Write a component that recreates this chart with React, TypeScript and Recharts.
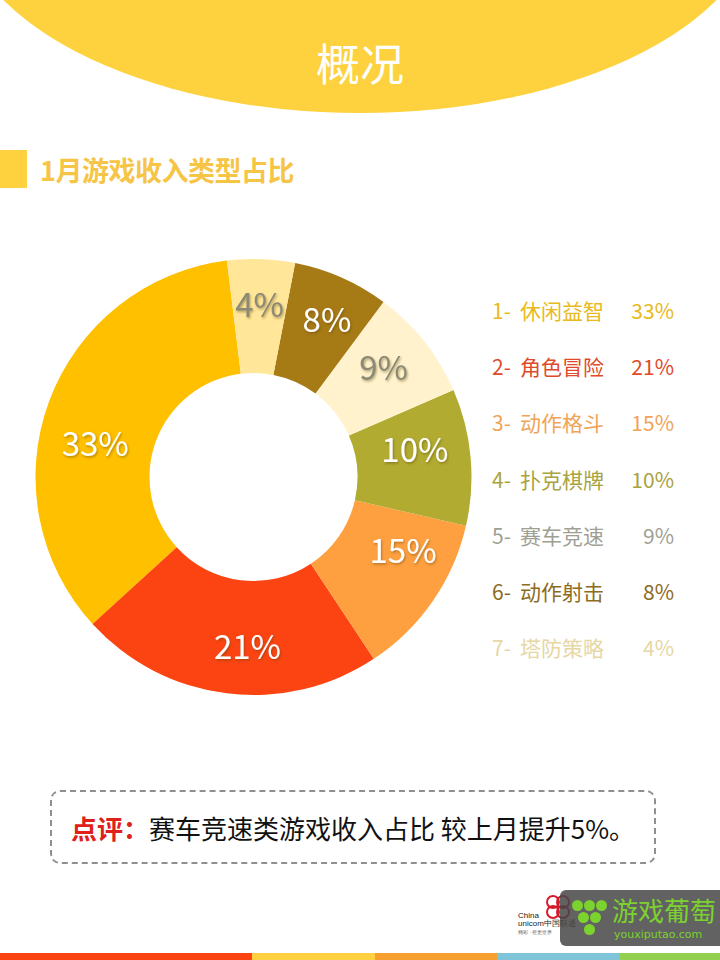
import React from 'react';
import { PieChart, Pie, Cell } from 'recharts';

// legend order (counter-clockwise from the top-left edge)
const categories = ['休闲益智', '角色冒险', '动作格斗', '扑克棋牌', '赛车竞速', '动作射击', '塔防策略'];
const percentLabels = ['33%', '21%', '15%', '10%', '9%', '8%', '4%'];
// slice sizes as drawn in the picture (share of the ring, %)
const sliceShares = [34.8, 22.5, 12.1, 10.1, 8.3, 7.1, 5.0];

const sliceColors = ['#FFC000', '#FC4412', '#FFA040', '#B1AB31', '#FFF2CC', '#A67A15', '#FFE699'];
const labelColors = ['#fff', '#fff', '#fff', '#fff', '#8C8A74', '#fff', '#8C8A74'];
const legendColors = ['#E9B920', '#E04A2A', '#F0A458', '#A9A340', '#A09F94', '#8C6B22', '#E6D7A4'];
// labels were nudged by hand in the original (degrees, ccw)
const labelNudge = [8, 5, 9, 5, 2, -1, 0];
const labelRadius = [162, 168, 166, 164, 171, 175, 174];

const stripeColors = ['#FC4412', '#FFD040', '#F7A030', '#7FC4D8', '#92D050'];
const stripeWidths = [252, 123, 122, 123, 100];

const FONT = '"Noto Sans CJK SC", "Noto Sans", sans-serif';
const RAD = Math.PI / 180;

const data = categories.map((name, i) => ({ name, share: sliceShares[i], label: percentLabels[i] }));

function renderLabel(props: any) {
  const { cx, cy, midAngle, index } = props;
  const r = labelRadius[index];
  const a = midAngle + labelNudge[index];
  const x = cx + r * Math.cos(-a * RAD);
  const y = cy + r * Math.sin(-a * RAD);
  return (
    <text
      x={x}
      y={y}
      fill={labelColors[index]}
      textAnchor="middle"
      dominantBaseline="central"
      fontSize={33}
      fontFamily={FONT}
      filter="url(#lblShadow)"
    >
      {percentLabels[index]}
    </text>
  );
}

export default function App() {
  return (
    <div style={{
      position: 'absolute', left: 0, top: 0, width: 720, height: 960,
      background: '#fff', overflow: 'hidden', fontFamily: FONT,
    }}>
      <svg width={0} height={0} style={{ position: 'absolute' }}>
        <defs>
          <filter id="lblShadow" x="-20%" y="-20%" width="140%" height="150%">
            <feDropShadow dx="1" dy="1.5" stdDeviation="1.2" floodColor="#5a4000" floodOpacity="0.45" />
          </filter>
        </defs>
      </svg>

      {/* header */}
      <div style={{
        position: 'absolute', left: -42, top: -307, width: 804, height: 420,
        borderRadius: '50%', background: '#FDD23E',
      }} />
      <div style={{
        position: 'absolute', left: 0, top: 30, width: 720, textAlign: 'center',
        color: '#fff', fontSize: 44, lineHeight: '64px',
      }}>概况</div>

      {/* section title */}
      <div style={{ position: 'absolute', left: 0, top: 150, width: 27, height: 38, background: '#FDD23E' }} />
      <div style={{
        position: 'absolute', left: 40, top: 151, color: '#F6C546', fontSize: 27,
        fontWeight: 'bold', lineHeight: '38px', letterSpacing: -0.5,
      }}>1月游戏收入类型占比</div>

      <PieChart
        width={720}
        height={960}
        margin={{ top: 0, right: 0, bottom: 0, left: 0 }}
        style={{ position: 'absolute', left: 0, top: 0 }}
      >
        <Pie
          data={data}
          dataKey="share"
          nameKey="name"
          cx={253.5}
          cy={477}
          innerRadius={104}
          outerRadius={218}
          startAngle={97}
          endAngle={457}
          stroke="none"
          label={renderLabel}
          labelLine={false}
          isAnimationActive={false}
        >
          {data.map((d, i) => <Cell key={d.name} fill={sliceColors[i]} />)}
        </Pie>
      </PieChart>

      {/* legend */}
      {categories.map((c, i) => (
        <div key={c} style={{
          position: 'absolute', left: 492, top: 294 + i * 56.2, width: 182, height: 32,
          color: legendColors[i], fontSize: 21, lineHeight: '32px',
          display: 'flex', justifyContent: 'space-between',
        }}>
          <span>{i + 1}-<span style={{ marginLeft: 9 }}>{c}</span></span>
          <span>{percentLabels[i]}</span>
        </div>
      ))}

      {/* comment box */}
      <div style={{
        position: 'absolute', left: 50, top: 790, width: 602, height: 70,
        border: '2px dashed #8f8f8f', borderRadius: 10,
        display: 'flex', alignItems: 'center', justifyContent: 'center',
        fontSize: 26, color: '#111',
      }}>
        <span style={{ color: '#E0201B', fontWeight: 'bold' }}>点评：</span>
        <span>赛车竞速类游戏收入占比 较上月提升5%。</span>
      </div>

      {/* logos */}
      <div style={{ position: 'absolute', left: 540, top: 893, width: 40, height: 30 }}>
        {[0, 1, 2, 3].map((k) => (
          <div key={k} style={{
            position: 'absolute', left: 6 + (k % 2) * 10, top: 2 + Math.floor(k / 2) * 10,
            width: 10, height: 10, border: '2px solid #D7192A', borderRadius: '50%',
          }} />
        ))}
      </div>
      <div style={{
        position: 'absolute', left: 518, top: 912, fontFamily: '"Liberation Sans", sans-serif',
        fontSize: 8, lineHeight: '8px', color: '#222',
      }}>
        China<br />unicom中国联通<br /><span style={{ fontSize: 5, color: '#666' }}>精彩 · 在更世界</span>
      </div>
      <div style={{
        position: 'absolute', left: 560, top: 890, width: 170, height: 56,
        background: 'rgba(70,70,70,0.85)', borderRadius: 6,
      }}>
        {[[12, 10], [24, 10], [36, 10], [18, 22], [30, 22], [24, 34]].map(([x, y], k) => (
          <div key={k} style={{
            position: 'absolute', left: x, top: y, width: 11, height: 11,
            borderRadius: '50%', background: '#7CD22E',
          }} />
        ))}
        <div style={{
          position: 'absolute', left: 52, top: 6, color: '#7CD22E', fontSize: 26, lineHeight: '28px',
        }}>游戏葡萄</div>
        <div style={{
          position: 'absolute', left: 54, top: 38, color: '#7CD22E', fontSize: 11, lineHeight: '13px',
          fontFamily: '"DejaVu Sans", sans-serif',
        }}>youxiputao.com</div>
      </div>

      {/* bottom stripes */}
      <div style={{ position: 'absolute', left: 0, top: 953, width: 720, height: 7, display: 'flex' }}>
        {stripeColors.map((col, i) => (
          <div key={col} style={{ width: stripeWidths[i], height: 7, background: col }} />
        ))}
      </div>
    </div>
  );
}
